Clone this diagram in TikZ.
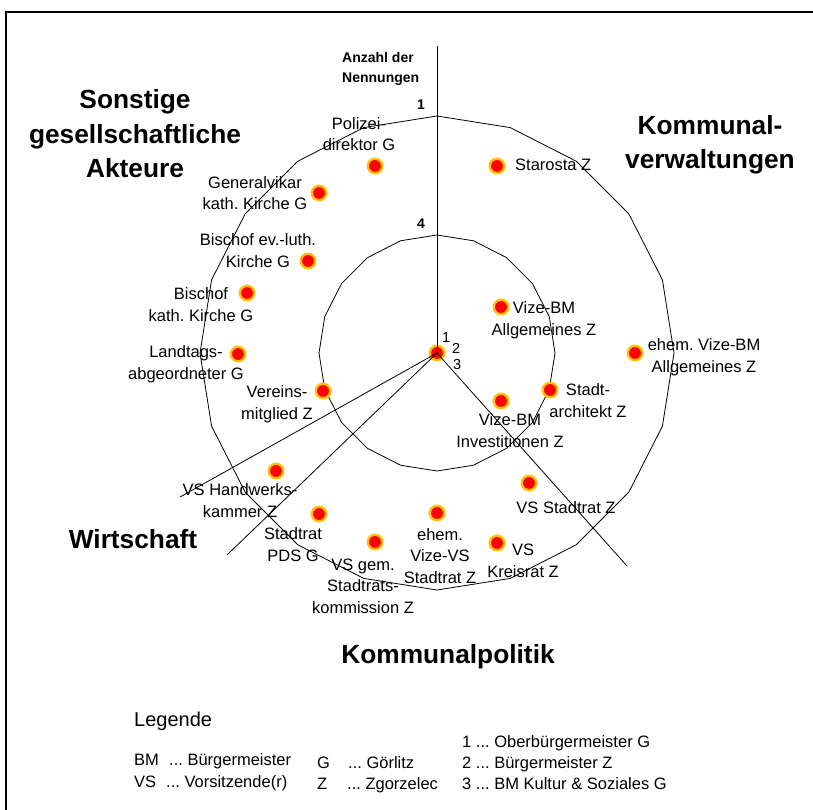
\documentclass[tikz,border=0pt]{standalone}
\usepackage{fontspec}
\setmainfont{Liberation Sans}
\usepackage{xcolor}
\frenchspacing
\definecolor{dotred}{RGB}{255,0,0}
\definecolor{dotring}{RGB}{255,192,0}
\tikzset{%
	every actor/.style={
		circle,
		fill=dotred,
		draw=dotring,
		line width=2.4pt,
		minimum size=14.5pt,
		inner sep=0pt
	},
	actor label/.style={
		align=center,
		anchor=base,
		inner sep=0pt,
		font=\fontsize{16.5}{21.5}\selectfont
	},
	sector label/.style={
		align=center,
		anchor=base,
		inner sep=0pt,
		font=\fontsize{26.3}{34.5}\selectfont\bfseries
	},
	axis label/.style={
		align=left,
		anchor=base west,
		inner sep=0pt,
		font=\fontsize{14}{20}\selectfont\bfseries
	},
	legend entry/.style={
		anchor=base west,
		inner sep=0pt,
		font=\fontsize{16.5}{21}\selectfont
	},
	web/.style={line width=0.8pt},
	divider/.style={line width=0.8pt},
}

\begin{document}
\begin{tikzpicture}[x=1pt, y=-1pt]
			\useasboundingbox (0,0) rectangle (813,810);
			\draw [line width=2pt] (6,815) -- (6,12) -- (818,12);
			
			\coordinate (centre) at (437,353);
			
			% radar grid, 20 spokes
			\foreach \r in {237,118}
			\draw [web] (437,353-\r) \foreach \k in {1,...,19} { -- ({437+\r*sin(18*\k)},{353-\r*cos(18*\k)}) } -- cycle;
			
			\foreach \x/\y [count=\i] in {375/166,319/193,308/261,247/293,238/354,323/391,276/471,319/514,375/542,437/513,497/543,529/483,501/401,550/390,635/353,501/307,497/166}
			\node [every actor] (actor-\i) at (\x,\y) {};
			\node [every actor] (actor-centre) at (centre) {};
			
			\coordinate (axis-n) at (437,46);
			\coordinate (axis-wsw) at (180,497);
			\coordinate (axis-sw) at (227,555);
			\coordinate (axis-se) at (627,566);
			\foreach \a in {n,wsw,sw,se}
			\draw [divider] (actor-centre.center) -- (axis-\a);
			
			% y = baseline of the last line
			\foreach \x/\y/\l [count=\i] in {359/151/{Polizei-\\direktor G},
				255/210/{Generalvikar\\kath. Kirche G},
				258/267/{Bischof ev.-luth.\\Kirche G},
				201/321/{Bischof\\kath. Kirche G},
				186/379/{Landtags-\\abgeordneter G},
				277/419/{Vereins-\\mitglied Z},
				240/517/{VS Handwerks-\\kammer Z},
				293/561/{Stadtrat\\PDS G},
				363/613/{VS gem.\\Stadtrats-\\kommission Z},
				440/583/{ehem.\\Vize-VS\\Stadtrat Z},
				523/577/{VS\\Kreisrat Z},
				566/513/{VS Stadtrat Z},
				510/447/{Vize-BM\\Investitionen Z},
				588/417/{Stadt-\\architekt Z},
				704/372/{ehem. Vize-BM\\Allgemeines Z},
				544/335/{Vize-BM\\Allgemeines Z}}
			\node [actor label] (label-\i) at (\x,\y) {\l};
			\node [actor label, anchor=base west] (label-17) at (515,171) {Starosta Z};
			
			\foreach \n/\x/\y in {1/442/342,2/452/353,3/453/369}
			\node [legend entry, font=\fontsize{14.5}{18}\selectfont] (num-\n) at (\x,\y) {\n};
			
			% sectors
			\node [sector label] (sec-sonstige) at (135,178) {Sonstige\\gesellschaftliche\\Akteure};
			\node [sector label] (sec-verwaltung) at (710,169) {Kommunal-\\verwaltungen};
			\node [sector label] (sec-wirtschaft) at (133,548) {Wirtschaft};
			\node [sector label] (sec-politik) at (448,663) {Kommunalpolitik};
			
			\node [axis label] (anzahl) at (342,83) {Anzahl der\\Nennungen};
			\node [axis label, anchor=base east] (tick-1) at (425,110) {1};
			\node [axis label, anchor=base east] (tick-4) at (425,229) {4};
			
			% legend
			\node [legend entry, font=\fontsize{20}{24}\selectfont] (legende) at (134,726) {Legende};
			\foreach \x/\y/\l in {134/765/BM,169/765/{... Bürgermeister},134/787/VS,166/787/{... Vorsitzende(r)},
				317/768/G,348/768/{... Görlitz},317/789/Z,347/789/{... Zgorzelec},
				462/747/{1 ... Oberbürgermeister G},462/768/{2 ... Bürgermeister Z},462/789/{3 ... BM Kultur \& Soziales G}}
			\node [legend entry] at (\x,\y) {\l};
			
		\end{tikzpicture}
\end{document}
